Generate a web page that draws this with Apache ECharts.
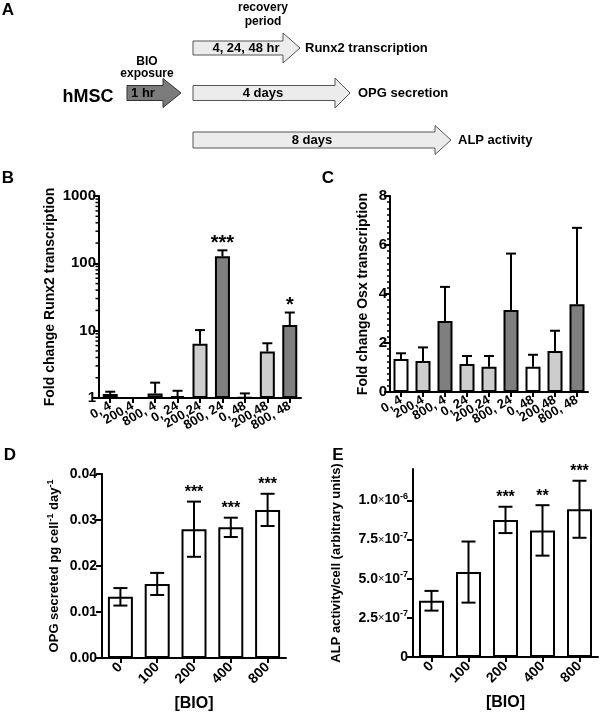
<!DOCTYPE html>
<html><head><meta charset="utf-8">
<script src="https://cdn.jsdelivr.net/npm/echarts@6/dist/echarts.min.js"></script>
<style>html,body{margin:0;padding:0;background:#fff}#c{width:602px;height:721px}</style>
</head><body><div id="c"></div>
<script>
// ---- data ----
const runx2Cats = ['0, 4','200,4','800, 4','0, 24','200,24','800, 24','0, 48','200,48','800, 48'];
const runx2Mean = [1.15, 1.0, 1.17, 1.07, 6.4, 127, 1.02, 4.9, 12.1];
const runx2Upper = [1.24, 1.0, 1.69, 1.28, 10.2, 156, 1.17, 6.5, 18.6];
const runx2Sig = ['', '', '', '', '', '***', '', '', '*'];
const runx2MinorTicks = [2,3,4,5,6,7,8,9,20,30,40,50,60,70,80,90,200,300,400,500,600,700,800,900];

const osxCats = ['0, 4','200,4','800, 4','0, 24','200,24','800, 24','0, 48','200,48','800, 48'];
const osxMean = [1.35, 1.27, 2.9, 1.14, 1.03, 3.35, 1.03, 1.67, 3.58];
const osxUpper = [1.58, 1.82, 4.29, 1.47, 1.47, 5.65, 1.52, 2.5, 6.7];

const bioCats = ['0','100','200','400','800'];
const opgMean = [0.0133, 0.0161, 0.0280, 0.0284, 0.0322];
const opgErr = [0.0019, 0.0024, 0.0060, 0.0021, 0.0035];
const opgSig = ['', '', '***', '***', '***'];

const alpMean = [3.59e-7, 5.42e-7, 8.75e-7, 8.08e-7, 9.43e-7];
const alpErr = [0.63e-7, 1.95e-7, 0.84e-7, 1.61e-7, 1.82e-7];
const alpSig = ['', '', '***', '**', '***'];
const alpTicks = [0, 2.5e-7, 5e-7, 7.5e-7, 1e-6];

// ---- styles ----
const F = "'Liberation Sans', Arial, sans-serif";
const FA = "'Liberation Sans Narrow', 'Liberation Sans', Arial, sans-serif";
const fills9 = ['#ffffff','#cdcdcd','#7f7f7f','#cdcdcd','#cdcdcd','#7f7f7f','#ffffff','#cdcdcd','#7f7f7f'];
const axLine = {show:true, lineStyle:{color:'#000', width:2}};

function xAx(idx, cats, rot, fs, name) {
  return {type:'category', gridIndex:idx, data:cats, boundaryGap:true,
    axisLine:axLine,
    axisTick:{show:true, alignWithLabel:true, length:5, lineStyle:{color:'#000', width:2}},
    axisLabel:{interval:0, rotate:rot, fontFamily:F, fontWeight:'bold', fontSize:fs, color:'#000', margin:7},
    name:name||'', nameLocation:'middle', nameGap:38,
    nameTextStyle:{fontFamily:F, fontWeight:'bold', fontSize:16, color:'#000'}};
}

function errSeries(xi, yi, data, capHalf, sig, fs, starOff) {
  return {type:'custom', xAxisIndex:xi, yAxisIndex:yi, z:10, clip:false,
    data:data,
    renderItem:function(params, api){
      const i = api.value(0);
      const hi = api.coord([i, api.value(2)]);
      const lo = api.coord([i, api.value(3)]);
      const ch = [];
      if (hi[1] < lo[1] - 0.5) {
        ch.push({type:'line', shape:{x1:hi[0], y1:hi[1], x2:lo[0], y2:lo[1]}, style:{stroke:'#000', lineWidth:2}});
        ch.push({type:'line', shape:{x1:hi[0]-capHalf, y1:hi[1], x2:hi[0]+capHalf, y2:hi[1]}, style:{stroke:'#000', lineWidth:2}});
        if (api.value(3) !== api.value(1)) {
          ch.push({type:'line', shape:{x1:lo[0]-capHalf, y1:lo[1], x2:lo[0]+capHalf, y2:lo[1]}, style:{stroke:'#000', lineWidth:2}});
        }
      }
      const s = sig ? sig[params.dataIndex] : '';
      if (s) {
        ch.push({type:'text', style:{text:s, x:hi[0], y:hi[1]-starOff, align:'center', verticalAlign:'middle',
          font:'bold '+fs+'px '+F, fill:'#000'}});
      }
      return {type:'group', children:ch};
    }};
}

function sciFmt(v){
  if (v === 0) return '{m|0}';
  const e = Math.floor(Math.log10(v) + 1e-9);
  const m = v / Math.pow(10, e);
  return '{m|' + m.toFixed(1) + '}{x|×}{m|10}{s|' + e + '}';
}

const chart = echarts.init(document.getElementById('c'), null, {renderer:'canvas'});

function arrow(x0, xb, tip, mid, bh, hh, fill, stroke){
  return {type:'polygon', shape:{points:[[x0,mid-bh],[xb,mid-bh],[xb,mid-hh],[tip,mid],[xb,mid+hh],[xb,mid+bh],[x0,mid+bh]]},
    style:{fill:fill, stroke:stroke, lineWidth:1}};
}
function txt(x, y, t, fs, weight, align, fam){
  return {type:'text', x:x, y:y, style:{text:t, font:(weight||'bold')+' '+fs+'px '+(fam||F), fill:'#000', align:align||'center', verticalAlign:'middle'}};
}

const option = {
  backgroundColor:'#fff',
  animation:false,
  grid:[
    {left:99, top:196, width:202, height:202},
    {left:390, top:196, width:198, height:196},
    {left:102, top:474, width:184, height:184},
    {left:413, top:469, width:185, height:188}
  ],
  xAxis:[
    xAx(0, runx2Cats, 30, 13),
    xAx(1, osxCats, 30, 13),
    xAx(2, bioCats, 45, 14, '[BIO]'),
    xAx(3, bioCats, 45, 14, '[BIO]')
  ],
  yAxis:[
    {type:'log', logBase:10, gridIndex:0, min:1, max:1000,
      axisLine:axLine, axisTick:{show:true, length:6, lineStyle:{color:'#000', width:2}}, splitLine:{show:false},
      axisLabel:{fontFamily:F, fontWeight:'bold', fontSize:15, color:'#000', margin:3, formatter:v=>String(Math.round(v))},
      name:'Fold change Runx2 transcription', nameLocation:'middle', nameRotate:90, nameGap:42,
      nameTextStyle:{fontFamily:F, fontWeight:'bold', fontSize:14, color:'#000'}},
    {type:'value', gridIndex:1, min:0, max:8, interval:2,
      axisLine:axLine, axisTick:{show:true, length:6, lineStyle:{color:'#000', width:2}}, splitLine:{show:false},
      minorTick:{show:true, splitNumber:8, length:3, lineStyle:{color:'#000', width:1.5}}, minorSplitLine:{show:false},
      axisLabel:{fontFamily:F, fontWeight:'bold', fontSize:15, color:'#000', margin:3},
      name:'Fold change Osx transcription', nameLocation:'middle', nameRotate:90, nameGap:20,
      nameTextStyle:{fontFamily:F, fontWeight:'bold', fontSize:14, color:'#000'}},
    {type:'value', gridIndex:2, min:0, max:0.04, interval:0.01,
      axisLine:axLine, axisTick:{show:true, length:6, lineStyle:{color:'#000', width:2}}, splitLine:{show:false},
      axisLabel:{fontFamily:F, fontWeight:'bold', fontSize:14, color:'#000', margin:5, formatter:v=>v.toFixed(2)},
      name:'OPG secreted pg cell{s|-1} day{s|-1}', nameLocation:'middle', nameRotate:90, nameGap:40,
      nameTextStyle:{fontFamily:F, fontWeight:'bold', fontSize:13, color:'#000',
        rich:{s:{fontFamily:F, fontWeight:'bold', fontSize:9, color:'#000', padding:[0,0,7,0]}}}},
    {type:'value', gridIndex:3, min:0, max:1.2e-6,
      axisLine:axLine,
      axisTick:{show:true, length:6, customValues:alpTicks, lineStyle:{color:'#000', width:2}}, splitLine:{show:false},
      axisLabel:{customValues:alpTicks, margin:5, formatter:sciFmt,
        rich:{m:{fontFamily:F, fontWeight:'bold', fontSize:14, color:'#000'},
              x:{fontFamily:F, fontSize:11, color:'#000'},
              s:{fontFamily:F, fontWeight:'bold', fontSize:9, color:'#000', padding:[0,0,8,0]}}},
      name:'ALP activity/cell (arbitrary units)', nameLocation:'middle', nameRotate:90, nameGap:70,
      nameTextStyle:{fontFamily:F, fontWeight:'bold', fontSize:13, color:'#000'}}
  ],
  series:[
    {type:'bar', xAxisIndex:0, yAxisIndex:0, barWidth:15,
      data:runx2Mean.map((v,i)=>({value:v, itemStyle:{color:fills9[i]}})),
      itemStyle:{borderColor:'#000', borderWidth:2}},
    errSeries(0, 0, runx2Mean.map((m,i)=>[i, m, runx2Upper[i], m]), 5, runx2Sig, 20, 7),
    {type:'custom', xAxisIndex:0, yAxisIndex:0, clip:false, z:5,
      data:runx2MinorTicks.map(v=>[0, v]),
      renderItem:function(params, api){
        const p = api.coord([0, api.value(1)]);
        const x = params.coordSys.x;
        return {type:'line', shape:{x1:x-3.5, y1:p[1], x2:x, y2:p[1]}, style:{stroke:'#000', lineWidth:1.5}};
      }},
    {type:'bar', xAxisIndex:1, yAxisIndex:1, barWidth:15,
      data:osxMean.map((v,i)=>({value:v, itemStyle:{color:fills9[i]}})),
      itemStyle:{borderColor:'#000', borderWidth:2}},
    errSeries(1, 1, osxMean.map((m,i)=>[i, m, osxUpper[i], m]), 5, null, 16, 8),
    {type:'bar', xAxisIndex:2, yAxisIndex:2, barWidth:25,
      data:opgMean, itemStyle:{color:'#fff', borderColor:'#000', borderWidth:2}},
    errSeries(2, 2, opgMean.map((m,i)=>[i, m, m+opgErr[i], m-opgErr[i]]), 7, opgSig, 16, 9),
    {type:'bar', xAxisIndex:3, yAxisIndex:3, barWidth:25,
      data:alpMean, itemStyle:{color:'#fff', borderColor:'#000', borderWidth:2}},
    errSeries(3, 3, alpMean.map((m,i)=>[i, m, m+alpErr[i], m-alpErr[i]]), 7, alpSig, 16, 9)
  ],
  graphic:[
    txt(8, 10, 'A', 17),
    txt(8, 178, 'B', 17),
    txt(328, 178, 'C', 17),
    txt(10, 455, 'D', 17),
    txt(338, 455, 'E', 17),
    arrow(193, 283, 300, 48, 7, 15, '#ececec', '#555'),
    arrow(127, 163, 181, 93, 7.5, 14.5, '#7b7b7b', '#333'),
    arrow(193, 335, 350, 93, 7.5, 15, '#ececec', '#555'),
    arrow(193, 435, 451, 140, 8, 14.5, '#ececec', '#555'),
    txt(263, 8, 'recovery', 12, 'bold', 'center', FA),
    txt(263, 22, 'period', 12, 'bold', 'center', FA),
    txt(147, 62, 'BIO', 12, 'bold', 'center', FA),
    txt(147, 74, 'exposure', 12, 'bold', 'center', FA),
    txt(88, 97, 'hMSC', 18, 'bold', 'center', FA),
    txt(143, 93, '1 hr', 13, 'bold', 'center', FA),
    txt(246, 48, '4, 24, 48 hr', 13, 'bold', 'center', F),
    txt(263, 93, '4 days', 13, 'bold', 'center', F),
    txt(312, 140, '8 days', 13, 'bold', 'center', F),
    txt(305, 48, 'Runx2 transcription', 13, 'bold', 'left', FA),
    txt(358, 93, 'OPG secretion', 13, 'bold', 'left', FA),
    txt(458, 140, 'ALP activity', 13, 'bold', 'left', FA)
  ]
};
chart.setOption(option);
</script></body></html>
